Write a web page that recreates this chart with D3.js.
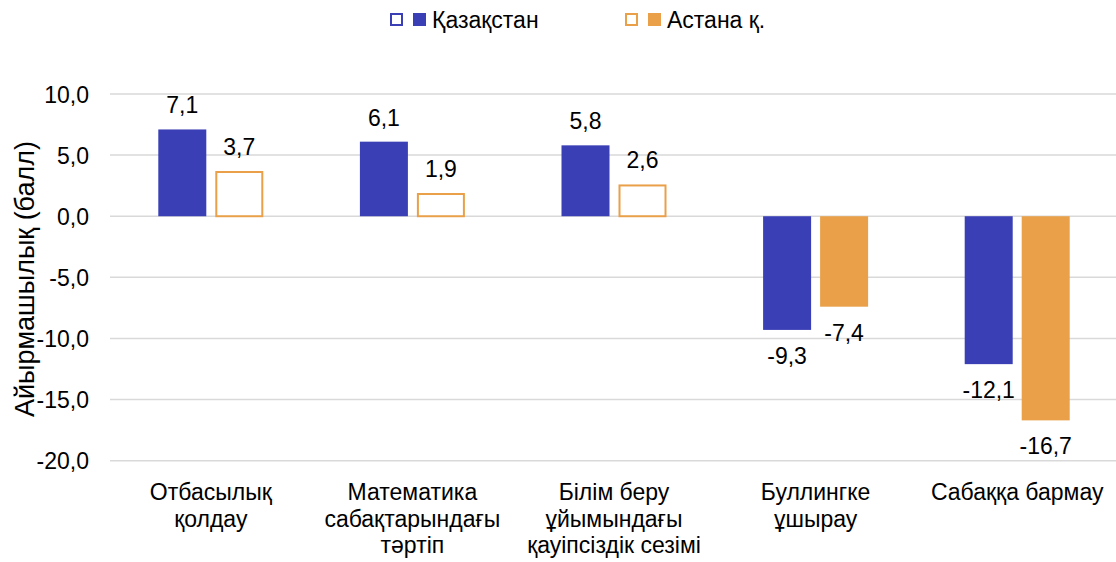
<!DOCTYPE html>
<html>
<head>
<meta charset="utf-8">
<script src="https://cdn.jsdelivr.net/npm/d3@7"></script>
<style>
  html, body { margin: 0; padding: 0; background: #fff; }
  svg { display: block; font-family: "Liberation Sans", Arial, sans-serif; }
</style>
</head>
<body>
<svg id="chart" width="1116" height="562"></svg>
<script>
const categories = [
  ["Отбасылық", "қолдау"],
  ["Математика", "сабақтарындағы", "тәртіп"],
  ["Білім беру", "ұйымындағы", "қауіпсіздік сезімі"],
  ["Буллингке", "ұшырау"],
  ["Сабаққа бармау"]
];
const seriesNames = ["Қазақстан", "Астана қ."];
const kazakhstan = [7.1, 6.1, 5.8, -9.3, -12.1];
const astana = [3.7, 1.9, 2.6, -7.4, -16.7];
const yTicks = [-20, -15, -10, -5, 0, 5, 10];
const yTitle = "Айырмашылық (балл)";

const colors = ["#3a3fb5", "#e9a049"];
const fmt = v => v.toFixed(1).replace(".", ",");
const FS = 23;

const svg = d3.select("#chart");
const W = 1116, H = 562;
const pLeft = 110, pRight = 1118, pTop = 94, pBottom = 460.7;

const catKeys = categories.map(c => c.join(" "));
const x = d3.scaleBand().domain(catKeys).range([pLeft, pRight]).padding(0);
const y = d3.scaleLinear().domain([-20, 10]).range([pBottom, pTop]);

const bw = x.bandwidth();
const inner = d3.scaleBand().domain([0, 1])
  .range([bw / 2 - 52.5, bw / 2 + 52.5]).paddingInner(9 / 57).paddingOuter(0);

// gridlines
svg.append("g").selectAll("line").data(yTicks).join("line")
  .attr("x1", pLeft).attr("x2", W)
  .attr("y1", d => y(d)).attr("y2", d => y(d))
  .attr("stroke", "#d9d9d9").attr("stroke-width", 1.5);

// y axis labels
const yAxis = d3.axisLeft(y).tickValues(yTicks).tickFormat(fmt).tickSize(0).tickPadding(0);
const gy = svg.append("g").attr("transform", `translate(89,0)`).call(yAxis);
gy.select(".domain").remove();
gy.selectAll("text").attr("font-size", FS).attr("fill", "#000")
  .attr("font-family", "Liberation Sans, Arial, sans-serif").attr("dy", "0.35em");

// y title
svg.append("text")
  .attr("transform", `translate(34,279) rotate(-90)`)
  .attr("text-anchor", "middle")
  .attr("font-size", 27)
  .attr("fill", "#000")
  .text(yTitle);

// bars
const data = [kazakhstan, astana];
data.forEach((vals, si) => {
  const g = svg.append("g");
  vals.forEach((v, i) => {
    const bx = x(catKeys[i]) + inner(si);
    const w = inner.bandwidth();
    const y0 = y(Math.max(0, v)), y1 = y(Math.min(0, v));
    const hollow = si === 1 && v > 0;
    if (hollow) {
      g.append("rect")
        .attr("x", bx + 1).attr("y", y0 + 1)
        .attr("width", w - 2).attr("height", Math.max(0, y1 - y0 - 1))
        .attr("fill", "#fff").attr("stroke", colors[si]).attr("stroke-width", 2);
    } else {
      g.append("rect")
        .attr("x", bx).attr("y", y0)
        .attr("width", w).attr("height", y1 - y0)
        .attr("fill", colors[si]);
    }
    g.append("text")
      .attr("x", bx + w / 2)
      .attr("y", v >= 0 ? y(v) - 16 : y(v) + 34)
      .attr("text-anchor", "middle")
      .attr("font-size", FS)
      .attr("fill", "#000")
      .text(fmt(v));
  });
});

// category labels
categories.forEach((lines, i) => {
  const t = svg.append("text")
    .attr("x", x(catKeys[i]) + bw / 2)
    .attr("y", 500)
    .attr("text-anchor", "middle")
    .attr("font-size", FS)
    .attr("fill", "#000");
  lines.forEach((ln, j) => {
    t.append("tspan").attr("x", x(catKeys[i]) + bw / 2).attr("y", 500 + j * 26.5).text(ln);
  });
});

// legend
const legendX = [390, 625];
seriesNames.forEach((name, si) => {
  const lx = legendX[si];
  const g = svg.append("g");
  g.append("rect").attr("x", lx + 1).attr("y", 14).attr("width", 11).attr("height", 11)
    .attr("fill", "#fff").attr("stroke", colors[si]).attr("stroke-width", 2);
  g.append("rect").attr("x", lx + 23).attr("y", 13).attr("width", 13).attr("height", 13)
    .attr("fill", colors[si]);
  g.append("text").attr("x", lx + 42).attr("y", 28)
    .attr("font-size", FS).attr("fill", "#000").text(name);
});
</script>
</body>
</html>
